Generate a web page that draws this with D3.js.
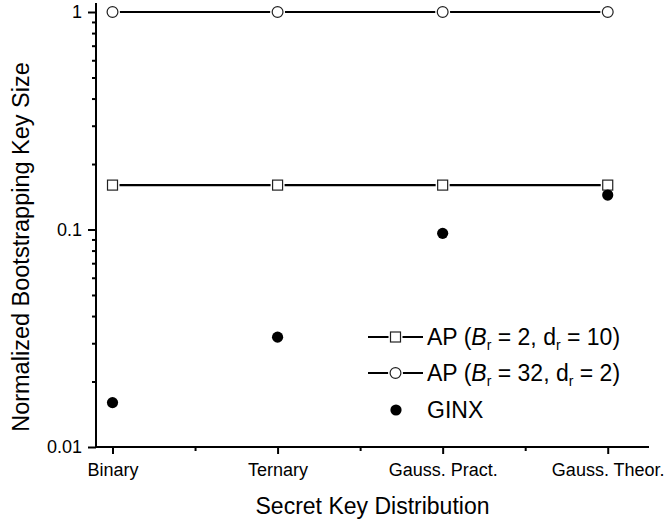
<!DOCTYPE html>
<html>
<head>
<meta charset="utf-8">
<script src="https://cdn.jsdelivr.net/npm/d3@7"></script>
<style>
  html, body { margin: 0; padding: 0; background: #fff; }
  svg { display: block; font-family: "Liberation Sans", Arial, sans-serif; }
</style>
</head>
<body>
<svg id="chart" width="667" height="521"></svg>
<script>
const categories = ["Binary", "Ternary", "Gauss. Pract.", "Gauss. Theor."];
const apB2 = [0.16, 0.16, 0.16, 0.16];
const apB32 = [1, 1, 1, 1];
const ginx = [0.016, 0.032, 0.096, 0.144];
const yTickValues = [0.01, 0.1, 1];
const yTickLabels = ["0.01", "0.1", "1"];
const xMinorTicks = [1.5, 2.5, 3.5];
const legendItems = [
  { key: "apB2", B: "2", d: "10" },
  { key: "apB32", B: "32", d: "2" },
  { key: "ginx" }
];

const svg = d3.select("#chart");
const x = d3.scaleLinear().domain([0.9, 4.25]).range([96, 649]);
const y = d3.scaleLog().domain([0.01, 1.1]).range([447, 3]);

// minor y ticks
const yMinor = [];
[0.01, 0.1].forEach(base => { for (let k = 2; k <= 9; k++) yMinor.push(base * k); });

// Axes
const axisY = d3.axisLeft(y).tickValues(yTickValues).tickSize(8).tickPadding(6)
  .tickFormat((d, i) => yTickLabels[i]);
const gy = svg.append("g").attr("transform", "translate(96,0)").call(axisY);
gy.select(".domain").attr("d", `M0,${y(1.1)}V${y(0.01)}`);
const gyMinor = svg.append("g").attr("transform", "translate(96,0)")
  .call(d3.axisLeft(y).tickValues(yMinor).tickSize(4).tickFormat(""));
gyMinor.select(".domain").remove();

const axisX = d3.axisBottom(x).tickValues([1, 2, 3, 4]).tickSize(7).tickPadding(9)
  .tickFormat((d, i) => categories[i]);
const gx = svg.append("g").attr("transform", "translate(0,447)").call(axisX);
gx.select(".domain").attr("d", `M${x(0.9)},0H${x(4.25)}`);
const gxMinor = svg.append("g").attr("transform", "translate(0,447)")
  .call(d3.axisBottom(x).tickValues(xMinorTicks).tickSize(4).tickFormat(""));
gxMinor.select(".domain").remove();

svg.selectAll(".domain").attr("stroke", "#000").attr("stroke-width", 2);
svg.selectAll(".tick line").attr("stroke", "#000").attr("stroke-width", 2);
svg.selectAll(".tick text").attr("font-size", 18).attr("fill", "#000")
  .attr("font-family", "Liberation Sans, Arial, sans-serif");

// Axis titles
svg.append("text").attr("x", (x(0.9) + x(4.25)) / 2).attr("y", 514)
  .attr("text-anchor", "middle").attr("font-size", 23).text("Secret Key Distribution");
svg.append("text").attr("transform", `translate(29,247) rotate(-90)`)
  .attr("text-anchor", "middle").attr("font-size", 23.5).text("Normalized Bootstrapping Key Size");

// Series lines
const line = d3.line().x((d, i) => x(i + 1)).y(d => y(d));
[apB2, apB32].forEach(s => {
  svg.append("path").datum(s).attr("d", line).attr("fill", "none")
    .attr("stroke", "#000").attr("stroke-width", 2.2);
});

function drawSquare(g, cx, cy) {
  g.append("rect").attr("x", cx - 7).attr("y", cy - 7).attr("width", 14).attr("height", 14).attr("fill", "#fff");
  g.append("rect").attr("x", cx - 5).attr("y", cy - 5).attr("width", 10).attr("height", 10)
    .attr("fill", "#fff").attr("stroke", "#222").attr("stroke-width", 1.2);
}
function drawCircle(g, cx, cy) {
  g.append("circle").attr("cx", cx).attr("cy", cy).attr("r", 7.5).attr("fill", "#fff");
  g.append("circle").attr("cx", cx).attr("cy", cy).attr("r", 5.4)
    .attr("fill", "#fff").attr("stroke", "#222").attr("stroke-width", 1.2);
}
function drawDot(g, cx, cy) {
  g.append("circle").attr("cx", cx).attr("cy", cy).attr("r", 5.6).attr("fill", "#000");
}

const gm = svg.append("g");
apB2.forEach((v, i) => drawSquare(gm, x(i + 1), y(v)));
apB32.forEach((v, i) => drawCircle(gm, x(i + 1), y(v)));
ginx.forEach((v, i) => drawDot(gm, x(i + 1), y(v)));

// Legend
const legendRowY = [337, 373, 410];
const lg = svg.append("g");
legendItems.forEach((item, i) => {
  const cy = legendRowY[i];
  if (item.key !== "ginx") {
    lg.append("line").attr("x1", 368).attr("x2", 423).attr("y1", cy).attr("y2", cy)
      .attr("stroke", "#000").attr("stroke-width", 2.2);
    if (item.key === "apB2") drawSquare(lg, 395.5, cy); else drawCircle(lg, 395.5, cy);
    const t = lg.append("text").attr("x", 427).attr("y", cy + 8).attr("font-size", 23);
    t.append("tspan").text("AP (");
    t.append("tspan").attr("font-style", "italic").text("B");
    t.append("tspan").attr("font-size", 14).attr("dy", 5).text("r");
    t.append("tspan").attr("dy", -5).text(" = " + item.B + ", d");
    t.append("tspan").attr("font-size", 14).attr("dy", 5).text("r");
    t.append("tspan").attr("dy", -5).text(" = " + item.d + ")");
  } else {
    drawDot(lg, 396, cy);
    lg.append("text").attr("x", 427).attr("y", cy + 8).attr("font-size", 23).text("GINX");
  }
});
</script>
</body>
</html>
